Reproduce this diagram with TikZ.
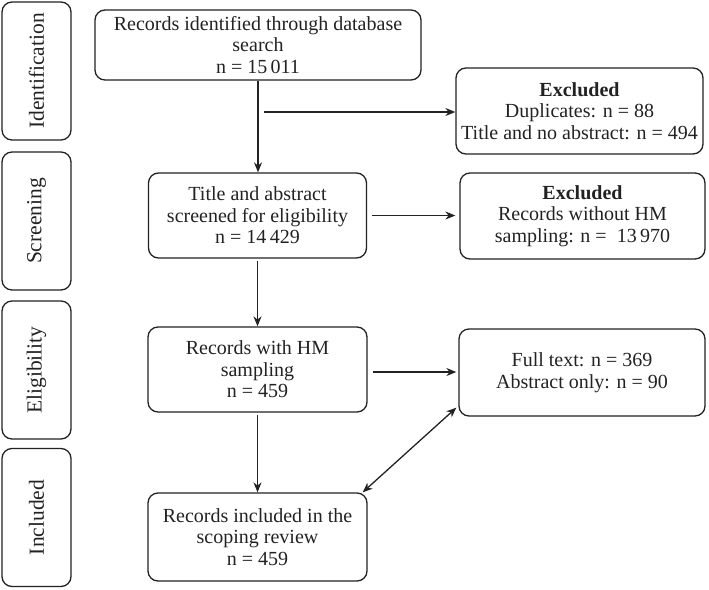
\documentclass[tikz,border=0pt]{standalone}
\usepackage{fontspec}
\setmainfont{Liberation Serif}
\usetikzlibrary{arrows.meta}
\definecolor{ink}{HTML}{222222}
\tikzset{
  box/.style={draw=ink, line width=1.3pt, rounded corners=10pt, inner sep=0pt, align=center, text=ink,
    font=\fontsize{20}{21.5}\selectfont},
  side/.style={box, minimum width=69pt, minimum height=138pt},
  sidetext/.style={rotate=90, text=ink, font=\fontsize{21.5}{22}\selectfont},
  arr/.style={draw=ink, line width=1.3pt, -{Stealth[length=10pt,width=8pt]}},
  darr/.style={draw=ink, line width=1.3pt, {Stealth[length=10pt,width=8pt]}-{Stealth[length=10pt,width=8pt]}}
}
\begin{document}
\begin{tikzpicture}[x=1pt,y=-1pt]
\useasboundingbox (0,0) rectangle (709,589);
% side phase boxes
\node[side] (sid) at (36.5,71) {};
\node[sidetext] (sidt) at (sid.center) {Identification};
\node[side] (sscr) at (36.5,221) {};
\node[sidetext] (sscrt) at (sscr.center) {Screening};
\node[side] (self) at (36.5,370) {};
\node[sidetext] (selft) at (self.center) {Eligibility};
\node[side] (sinc) at (36.5,517.5) {};
\node[sidetext] (sinct) at (sinc.center) {Included};
% main boxes
\node[box, minimum width=326pt, minimum height=70pt] (b1) at (258,45)
  {Records identified through database\\search\\n = 15\,011};
\node[box, minimum width=247pt, minimum height=86pt] (e1) at (579.5,111)
  {\textbf{Excluded}\\Duplicates: n = 88\\Title and no abstract: n = 494};
\node[box, minimum width=218pt, minimum height=85pt] (b2) at (257.5,215.5)
  {Title and abstract\\screened for eligibility\\n = 14\,429};
\node[box, minimum width=245pt, minimum height=86pt] (e2) at (582.5,216)
  {\textbf{Excluded}\\Records without HM\\sampling: n = ~13\,970};
\node[box, minimum width=219pt, minimum height=85pt] (b3) at (257.5,369.5)
  {Records with HM\\sampling\\n = 459};
\node[box, minimum width=246pt, minimum height=87pt] (r3) at (582,372.5)
  {Full text: n = 369\\Abstract only: n = 90};
\node[box, minimum width=219pt, minimum height=88pt] (b4) at (257.5,537)
  {Records included in the\\scoping review\\n = 459};
% connectors
\coordinate (c1) at (264,112);
\draw[arr] (b1.south) -- (b1.south |- b2.north);
\draw[arr] (c1) -- (c1 -| e1.west);
\draw[arr, shorten <=5pt, shorten >=4pt] (b2.east) -- (b2.east -| e2.west);
\draw[arr, shorten <=2pt] (b2.south) -- (b2.south |- b3.north);
\draw[arr, shorten <=5pt, shorten >=2pt] (b3.east |- 0,372) -- (r3.west |- 0,372);
\draw[arr, shorten <=2pt] (b3.south) -- (b3.south |- b4.north);
\draw[darr] ([xshift=-5pt]b4.north east) -- ([xshift=-2pt,yshift=9pt]r3.south west);
\end{tikzpicture}
\end{document}
